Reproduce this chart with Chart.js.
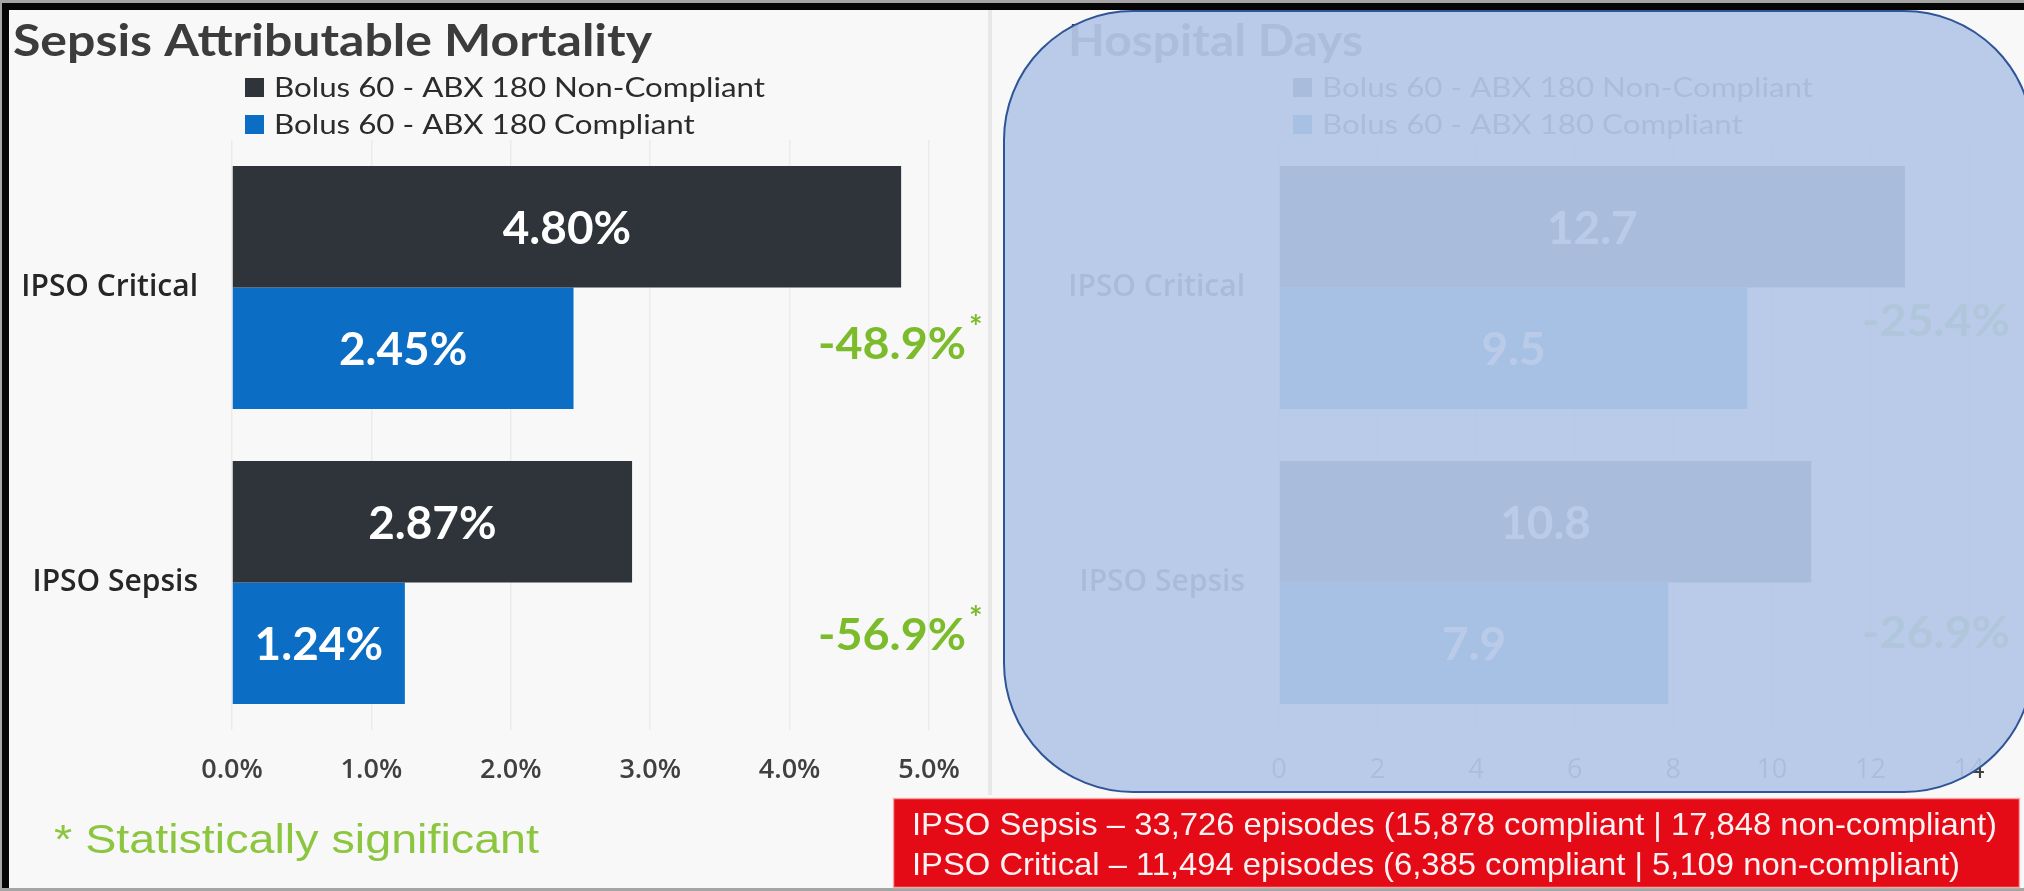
<!DOCTYPE html>
<html><head><meta charset="utf-8">
<script src="https://cdn.jsdelivr.net/npm/chart.js@4.4.1/dist/chart.umd.min.js"></script>
<style>
html,body{margin:0;padding:0;width:2024px;height:891px;overflow:hidden;background:#A5A5A5;}
#frame{position:absolute;left:2px;top:3px;width:2022px;height:885px;background:#050505;}
#bg{position:absolute;left:9px;top:10px;width:2015px;height:878px;background:#F8F8F8;}
#sep{position:absolute;left:988px;top:10px;width:4px;height:785px;background:#E8E8E8;}
canvas{position:absolute;left:0;top:0;}
#overlay{position:absolute;left:1003px;top:10px;width:1031px;height:783px;box-sizing:border-box;border:2.5px solid #2F5597;border-radius:130px;background:rgba(180,199,231,0.93);}
</style></head>
<body>
<div id="frame"></div><div id="bg"></div><div id="sep"></div>
<canvas id="c1" width="2024" height="891"></canvas>
<canvas id="c2" width="2024" height="891"></canvas>
<div id="overlay"></div>
<script>
// ---------- data ----------
const categories = ['IPSO Critical', 'IPSO Sepsis'];
const seriesNames = ['Bolus 60 - ABX 180 Non-Compliant', 'Bolus 60 - ABX 180 Compliant'];
const mortalityNonCompliant = [4.80, 2.87];
const mortalityCompliant = [2.45, 1.24];
const mortalityChange = ['-48.9%', '-56.9%'];
const mortalitySignificant = [true, true];
const mortalityTicks = [0, 1, 2, 3, 4, 5];
const daysNonCompliant = [12.7, 10.8];
const daysCompliant = [9.5, 7.9];
const daysChange = ['-25.4%', '-26.9%'];
const daysSignificant = [false, false];
const daysTicks = [0, 2, 4, 6, 8, 10, 12, 14];
const titles = ['Sepsis Attributable Mortality', 'Hospital Days'];
const footnote = '* Statistically significant';
const episodeNotes = [
  'IPSO Sepsis \u2013 33,726 episodes (15,878 compliant | 17,848 non-compliant)',
  'IPSO Critical \u2013 11,494 episodes (6,385 compliant | 5,109 non-compliant)'
];

// ---------- styles ----------
const DARK = '#2E343A';
const BLUE = '#0B6DC3';
const GREEN = '#7CBB2B';
const LATO = 'Lato, Calibri, sans-serif';

function drawStretched(ctx, text, x, y, font, color, opts) {
  opts = opts || {};
  ctx.save();
  ctx.font = font; ctx.fillStyle = color;
  ctx.textBaseline = 'alphabetic'; ctx.textAlign = 'left';
  const w = ctx.measureText(text).width;
  const sx = opts.width ? opts.width / w : (opts.sx || 1);
  const drawn = w * sx;
  const left = opts.align === 'center' ? x - drawn / 2 : (opts.align === 'right' ? x - drawn : x);
  ctx.translate(left, y); ctx.scale(sx, 1); ctx.fillText(text, 0, 0);
  ctx.restore();
  return sx;
}

const annotPlugin = {
  id: 'annot',
  afterDatasetsDraw(chart, args, o) {
    const ctx = chart.ctx;
    // values inside bars
    chart.data.datasets.forEach((ds, i) => {
      const meta = chart.getDatasetMeta(i);
      meta.data.forEach((el, j) => {
        const cx = (el.x + el.base) / 2;
        drawStretched(ctx, o.fmt(ds.data[j]), cx, el.y + 17, 'bold 45px ' + LATO, '#FFFFFF', {align: 'center', sx: 1.02});
      });
    });
    // change labels beside the compliant bars
    const meta1 = chart.getDatasetMeta(1);
    o.change.forEach((t, j) => {
      const el = meta1.data[j];
      const base = el.y + o.changeDy[j];
      drawStretched(ctx, t, o.changeX, base, 'bold 44px ' + LATO, GREEN, {width: 148});
      if (o.sig[j]) {
        drawStretched(ctx, '*', o.changeX + 151, base - 20, 'bold 32px ' + LATO, GREEN, {});
      }
    });
  },
  afterDraw(chart, args, o) {
    const ctx = chart.ctx;
    // title
    const tsx = o.title === titles[0]
      ? drawStretched(ctx, titles[0], 13, 56, 'bold 44px ' + LATO, '#3C3C3C', {width: 639})
      : null;
    if (o.title !== titles[0]) {
      drawStretched(ctx, o.title, o.titleX, 56, 'bold 44px ' + LATO, '#3C3C3C', {width: 295});
    }
    // legend
    ctx.save(); ctx.font = '27px ' + LATO;
    const lsx = 491 / ctx.measureText(seriesNames[0]).width; ctx.restore();
    chart.data.datasets.forEach((ds, i) => {
      const y = 78 + i * 37;
      ctx.fillStyle = ds.backgroundColor;
      ctx.fillRect(o.legendX, y, 19, 19);
      drawStretched(ctx, ds.label, o.legendX + 29, y + 19, '27px ' + LATO, '#2B2B2B', {sx: lsx});
    });
    if (o.notes) {
      // footnote
      drawStretched(ctx, footnote, 54, 853, '41px "Liberation Sans", Arial, sans-serif', '#8CC63F', {width: 485});
      // red box
      ctx.save();
      ctx.fillStyle = '#E40A16';
      ctx.fillRect(893, 798, 1127, 90);
      ctx.strokeStyle = 'rgba(255,200,200,0.8)'; ctx.lineWidth = 1.5;
      ctx.strokeRect(893.5, 798.5, 1126, 89);
      ctx.restore();
      ctx.save(); ctx.font = '32px "Liberation Sans", Arial, sans-serif';
      const nsx = 1085 / ctx.measureText(episodeNotes[0]).width; ctx.restore();
      drawStretched(ctx, episodeNotes[0], 912, 835, '32px "Liberation Sans", Arial, sans-serif', '#FFF2F2', {sx: nsx});
      drawStretched(ctx, episodeNotes[1], 912, 875, '32px "Liberation Sans", Arial, sans-serif', '#FFF2F2', {sx: nsx});
    }
  }
};

function makeChart(id, cfg) {
  const ticksVals = cfg.ticks;
  return new Chart(document.getElementById(id), {
    type: 'bar',
    data: {
      labels: categories,
      datasets: [
        {label: seriesNames[0], data: cfg.nonCompliant, backgroundColor: DARK},
        {label: seriesNames[1], data: cfg.compliant, backgroundColor: BLUE}
      ]
    },
    options: {
      indexAxis: 'y',
      responsive: false,
      animation: false,
      devicePixelRatio: 1,
      categoryPercentage: 0.823,
      barPercentage: 1,
      layout: {padding: {left: cfg.padLeft, right: cfg.padRight, top: 140, bottom: 101}},
      scales: {
        x: {
          min: ticksVals[0], max: ticksVals[ticksVals.length - 1],
          afterBuildTicks: s => { s.ticks = ticksVals.map(v => ({value: v})); },
          afterFit: s => { s.height = 60; },
          grid: {color: '#EBEBEB', lineWidth: 1.5, drawTicks: false},
          border: {display: false},
          ticks: {
            padding: 24, color: '#404040',
            font: {family: '"Open Sans", sans-serif', size: 27, weight: cfg.xWeight},
            callback: cfg.tickFmt
          }
        },
        y: {
          afterFit: s => { s.width = 232; },
          grid: {display: false, drawTicks: false},
          border: {display: false},
          ticks: {padding: 34, color: '#262626', font: {family: '"Open Sans", sans-serif', size: 30, weight: cfg.yWeight}}
        }
      },
      plugins: {
        legend: {display: false},
        tooltip: {enabled: false},
        title: {display: false},
        annot: cfg.annot
      }
    },
    plugins: [annotPlugin]
  });
}

makeChart('c1', {
  nonCompliant: mortalityNonCompliant, compliant: mortalityCompliant,
  ticks: mortalityTicks, padLeft: 0, padRight: 2024 - 929,
  tickFmt: v => v.toFixed(1) + '%', xWeight: '600', yWeight: '600',
  annot: {
    fmt: v => v.toFixed(2) + '%', change: mortalityChange, sig: mortalitySignificant,
    changeX: 818, changeDy: [11, 7], title: titles[0], titleX: 13, legendX: 245, notes: true
  }
});

makeChart('c2', {
  nonCompliant: daysNonCompliant, compliant: daysCompliant,
  ticks: daysTicks, padLeft: 1279 - 232, padRight: 2024 - 1969,
  tickFmt: v => String(v), xWeight: 'normal', yWeight: '600',
  annot: {
    fmt: v => v.toFixed(1), change: daysChange, sig: daysSignificant,
    changeX: 1862, changeDy: [-12, 5], title: titles[1], titleX: 1068, legendX: 1293, notes: false
  }
});
</script>
</body></html>
